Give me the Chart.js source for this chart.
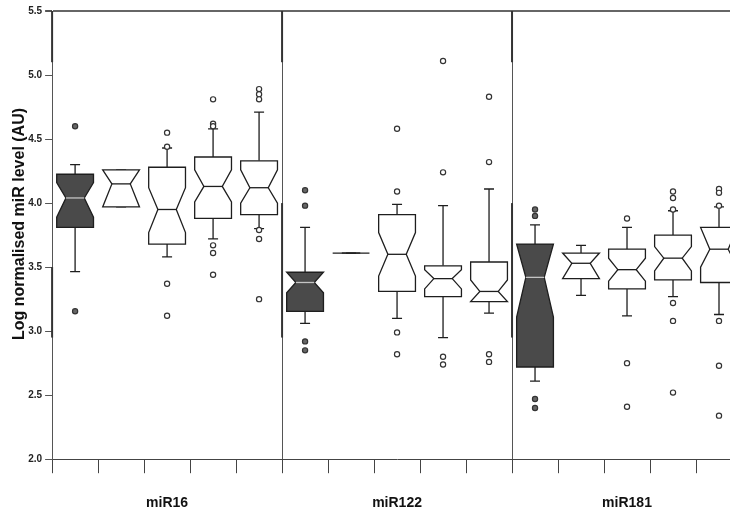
<!DOCTYPE html>
<html>
<head>
<meta charset="utf-8">
<script src="https://cdn.jsdelivr.net/npm/chart.js@4"></script>
<style>
  html, body { margin: 0; padding: 0; background: #fff; overflow: hidden; }
  canvas { display: block; }
</style>
</head>
<body>
<canvas id="boxChart" width="760" height="517"></canvas>
<script>
// one box per category, five categories per group
const groups = ["miR16", "miR122", "miR181"];
const whiskerHigh = [4.30, 4.26, 4.43, 4.58, 4.71, 3.81, 3.61, 3.99, 3.98, 4.11, 3.83, 3.67, 3.81, 3.94, 3.97];
const q3 =          [4.225, 4.26, 4.28, 4.36, 4.33, 3.46, 3.61, 3.91, 3.51, 3.54, 3.68, 3.61, 3.64, 3.75, 3.81];
const notchHigh =   [4.16, 4.26, 4.12, 4.26, 4.26, 3.46, 3.61, 3.77, 3.48, 3.40, 3.68, 3.61, 3.57, 3.66, 3.81];
const median =      [4.04, 4.15, 3.95, 4.13, 4.12, 3.38, 3.61, 3.60, 3.41, 3.31, 3.42, 3.53, 3.48, 3.57, 3.64];
const notchLow =    [3.89, 3.97, 3.77, 4.01, 4.00, 3.30, 3.61, 3.43, 3.33, 3.23, 3.11, 3.41, 3.39, 3.47, 3.50];
const q1 =          [3.81, 3.97, 3.68, 3.88, 3.91, 3.155, 3.61, 3.31, 3.27, 3.23, 2.72, 3.41, 3.33, 3.40, 3.38];
const whiskerLow =  [3.465, 3.97, 3.58, 3.72, 3.80, 3.06, 3.61, 3.10, 2.95, 3.14, 2.61, 3.28, 3.12, 3.27, 3.13];
const outliers = [
  [4.60, 3.155],
  [],
  [4.55, 4.44, 3.37, 3.12],
  [4.81, 4.62, 4.60, 3.67, 3.61, 3.44],
  [4.89, 4.85, 4.81, 3.79, 3.72, 3.25],
  [4.10, 3.98, 2.92, 2.85],
  [],
  [4.58, 4.09, 2.99, 2.82],
  [5.11, 4.24, 2.80, 2.74],
  [4.83, 4.32, 2.82, 2.76],
  [3.95, 3.90, 2.47, 2.40],
  [],
  [3.88, 2.75, 2.41],
  [4.09, 4.04, 3.95, 3.22, 3.08, 2.52],
  [4.11, 4.08, 3.98, 3.08, 2.73, 2.34],
];
const yTicks = [2.0, 2.5, 3.0, 3.5, 4.0, 4.5, 5.0, 5.5];

const isDark = (i) => i % 5 === 0;

const points = [];
outliers.forEach((list, i) => list.forEach((v) => points.push({ x: i + 0.5, y: v })));

const boxPlugin = {
  id: "notchedBoxes",
  beforeDatasetsDraw(chart) {
    const { ctx, scales: { x, y } } = chart;
    const band = x.getPixelForValue(1) - x.getPixelForValue(0);
    const half = band * 0.4;
    const dent = half * 0.5;
    const cap = 5;
    ctx.save();
    median.forEach((m, i) => {
      const cx = x.getPixelForValue(i + 0.5);
      const l = cx - half, r = cx + half;
      const yHi = y.getPixelForValue(whiskerHigh[i]);
      const yQ3 = y.getPixelForValue(q3[i]);
      const yNh = y.getPixelForValue(notchHigh[i]);
      const yMed = y.getPixelForValue(m);
      const yNl = y.getPixelForValue(notchLow[i]);
      const yQ1 = y.getPixelForValue(q1[i]);
      const yLo = y.getPixelForValue(whiskerLow[i]);

      ctx.strokeStyle = "#1e1e1e";
      ctx.lineWidth = 1.3;
      ctx.beginPath();
      ctx.moveTo(cx, yQ3); ctx.lineTo(cx, yHi);
      ctx.moveTo(cx - cap, yHi); ctx.lineTo(cx + cap, yHi);
      ctx.moveTo(cx, yQ1); ctx.lineTo(cx, yLo);
      ctx.moveTo(cx - cap, yLo); ctx.lineTo(cx + cap, yLo);
      ctx.stroke();

      ctx.beginPath();
      ctx.moveTo(l, yQ3);
      ctx.lineTo(r, yQ3);
      ctx.lineTo(r, yNh);
      ctx.lineTo(r - dent, yMed);
      ctx.lineTo(r, yNl);
      ctx.lineTo(r, yQ1);
      ctx.lineTo(l, yQ1);
      ctx.lineTo(l, yNl);
      ctx.lineTo(l + dent, yMed);
      ctx.lineTo(l, yNh);
      ctx.closePath();
      ctx.fillStyle = isDark(i) ? "#4a4a4a" : "#ffffff";
      ctx.fill();
      ctx.stroke();

      ctx.beginPath();
      ctx.strokeStyle = isDark(i) ? "#c4c4c4" : "#1e1e1e";
      ctx.moveTo(l + dent, yMed);
      ctx.lineTo(r - dent, yMed);
      ctx.stroke();
    });
    ctx.restore();
  },
  afterDraw(chart) {
    // heavier strokes on parts of the axis and the group separators
    const { ctx, scales: { x, y } } = chart;
    const segs = [[0, 5.1, 5.5], [0, 2.95, 3.5], [5, 5.1, 5.5], [5, 2.95, 4.0], [10, 5.1, 5.5], [10, 2.95, 4.0]];
    ctx.save();
    ctx.strokeStyle = "#333";
    ctx.lineWidth = 2;
    segs.forEach(([gx, a, b]) => {
      const px = x.getPixelForValue(gx);
      ctx.beginPath();
      ctx.moveTo(px, y.getPixelForValue(a));
      ctx.lineTo(px, y.getPixelForValue(b));
      ctx.stroke();
    });
    ctx.restore();
  },
};

new Chart(document.getElementById("boxChart"), {
  type: "scatter",
  data: {
    datasets: [
      {
        label: "outliers",
        data: points,
        pointStyle: "circle",
        pointRadius: 2.6,
        borderWidth: 1.2,
        borderColor: "#333",
        backgroundColor: (c) => (c.raw && isDark(Math.floor(c.raw.x)) ? "#666" : "#fff"),
      },
    ],
  },
  options: {
    responsive: false,
    animation: false,
    devicePixelRatio: 1,
    layout: { padding: { left: 2, top: 11, right: 18, bottom: -17 } },
    plugins: { legend: { display: false }, tooltip: { enabled: false } },
    scales: {
      x: {
        type: "linear",
        min: 0,
        max: 15,
        ticks: { stepSize: 1, display: false },
        grid: {
          color: (c) => (c.tick && (c.tick.value === 5 || c.tick.value === 10) ? "#555" : "rgba(0,0,0,0)"),
          tickColor: "#444",
          tickLength: 14,
          lineWidth: 1,
        },
        border: { color: "#444", width: 1 },
      },
      x2: {
        type: "category",
        labels: groups,
        position: "bottom",
        offset: true,
        grid: { display: false, drawTicks: false },
        border: { display: false },
        ticks: { padding: 22, color: "#111", font: { family: "Liberation Sans", size: 14, weight: "bold" } },
      },
      y: {
        min: 2,
        max: 5.5,
        afterBuildTicks: (s) => { s.ticks = yTicks.map((v) => ({ value: v })); },
        ticks: {
          padding: 3,
          color: "#222",
          font: { family: "Liberation Sans", size: 10, weight: "bold" },
          callback: (v) => Number(v).toFixed(1),
        },
        grid: {
          color: (c) => (c.tick && c.tick.value === 5.5 ? "#666" : "rgba(0,0,0,0)"),
          lineWidth: (c) => (c.tick && c.tick.value === 5.5 ? 2 : 1),
          tickColor: "#555",
          tickLength: 7,
        },
        border: { color: "#555", width: 1 },
        title: {
          display: true,
          // leading spaces nudge the rotated title up a little, as in the original
          text: "\u00a0\u00a0\u00a0\u00a0\u00a0Log normalised miR level (AU)",
          color: "#111",
          font: { family: "Liberation Sans", size: 16, weight: "bold" },
          padding: { top: 8, bottom: -4 },
        },
      },
    },
  },
  plugins: [boxPlugin],
});
</script>
</body>
</html>
